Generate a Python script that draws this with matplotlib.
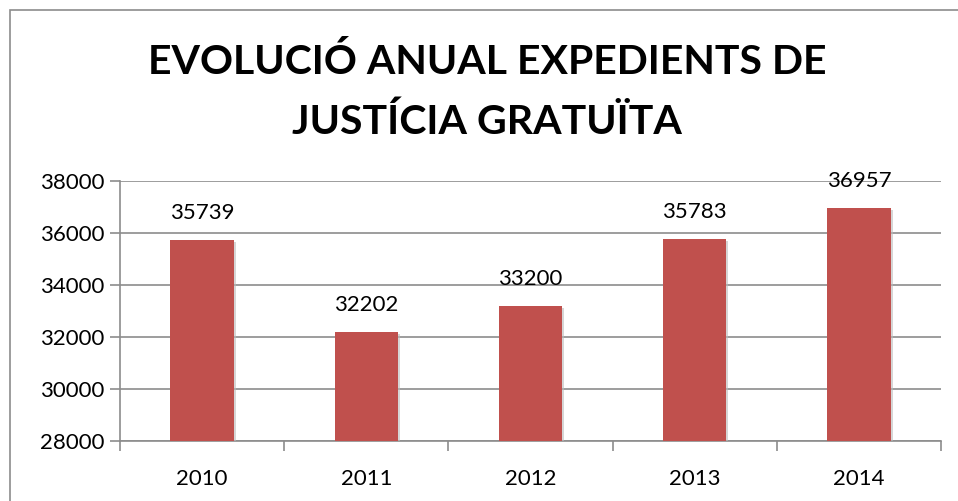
import matplotlib.pyplot as plt
from matplotlib.patches import Rectangle
import matplotlib.patheffects as pe

years = ['2010', '2011', '2012', '2013', '2014']
expedients = [35739, 32202, 33200, 35783, 36957]
yticks = [28000, 30000, 32000, 34000, 36000, 38000]

plt.rcParams['font.family'] = ['Lato', 'DejaVu Sans']

W, H = 958, 501
fig = plt.figure(figsize=(W / 100, H / 100), dpi=100)
fig.patch.set_facecolor('white')

# chart frame (cropped at right/bottom)
fig.patches.append(Rectangle((10 / W, -0.1), 1.2, 1 - 10 / H + 0.1,
                             transform=fig.transFigure, fill=False,
                             edgecolor='#8c8c8c', linewidth=1.2))

ax = fig.add_axes([120 / W, 1 - 441 / H, (941 - 120) / W, (441 - 181) / H])
x = range(len(years))
bars = ax.bar(x, [v - 28000 for v in expedients], bottom=28000, width=0.385,
              color='#C0504D', zorder=3,
              path_effects=[pe.SimplePatchShadow(offset=(1.5, -1.5), shadow_rgbFace='#bbbbbb', alpha=0.6),
                            pe.Normal()])
for i, v in enumerate(expedients):
    ax.annotate(str(v), (i, v), xytext=(0, 12), textcoords='offset points',
                ha='center', va='bottom', fontsize=16, color='black')

ax.set_ylim(28000, 38000)
ax.set_xlim(-0.5, 4.5)
ax.set_yticks(yticks)
ax.set_yticklabels([str(t) for t in yticks], fontsize=16)
ax.yaxis.grid(True, color='#8c8c8c', linewidth=1.2, zorder=0)
ax.set_axisbelow(True)

ax.set_xticks(list(x))
ax.set_xticklabels(years, fontsize=16)
ax.set_xticks([i - 0.5 for i in range(len(years) + 1)], minor=True)
ax.tick_params(axis='x', which='major', length=0, pad=20)
ax.tick_params(axis='x', which='minor', length=7, color='#8c8c8c', width=1.2)
ax.tick_params(axis='y', length=7, color='#8c8c8c', width=1.2, pad=4)

for s in ['top', 'right']:
    ax.spines[s].set_visible(False)
ax.spines['left'].set_color('#8c8c8c')
ax.spines['bottom'].set_color('#8c8c8c')
ax.spines['left'].set_linewidth(1.2)
ax.spines['bottom'].set_linewidth(1.2)

fig.text(487 / W, 1 - 62 / H, 'EVOLUCIÓ ANUAL EXPEDIENTS DE', ha='center', va='center',
         fontsize=29.5, fontweight='bold')
fig.text(487 / W, 1 - 122 / H, 'JUSTÍCIA GRATUÏTA', ha='center', va='center',
         fontsize=29.5, fontweight='bold')

fig.savefig('out.png', dpi=100)
